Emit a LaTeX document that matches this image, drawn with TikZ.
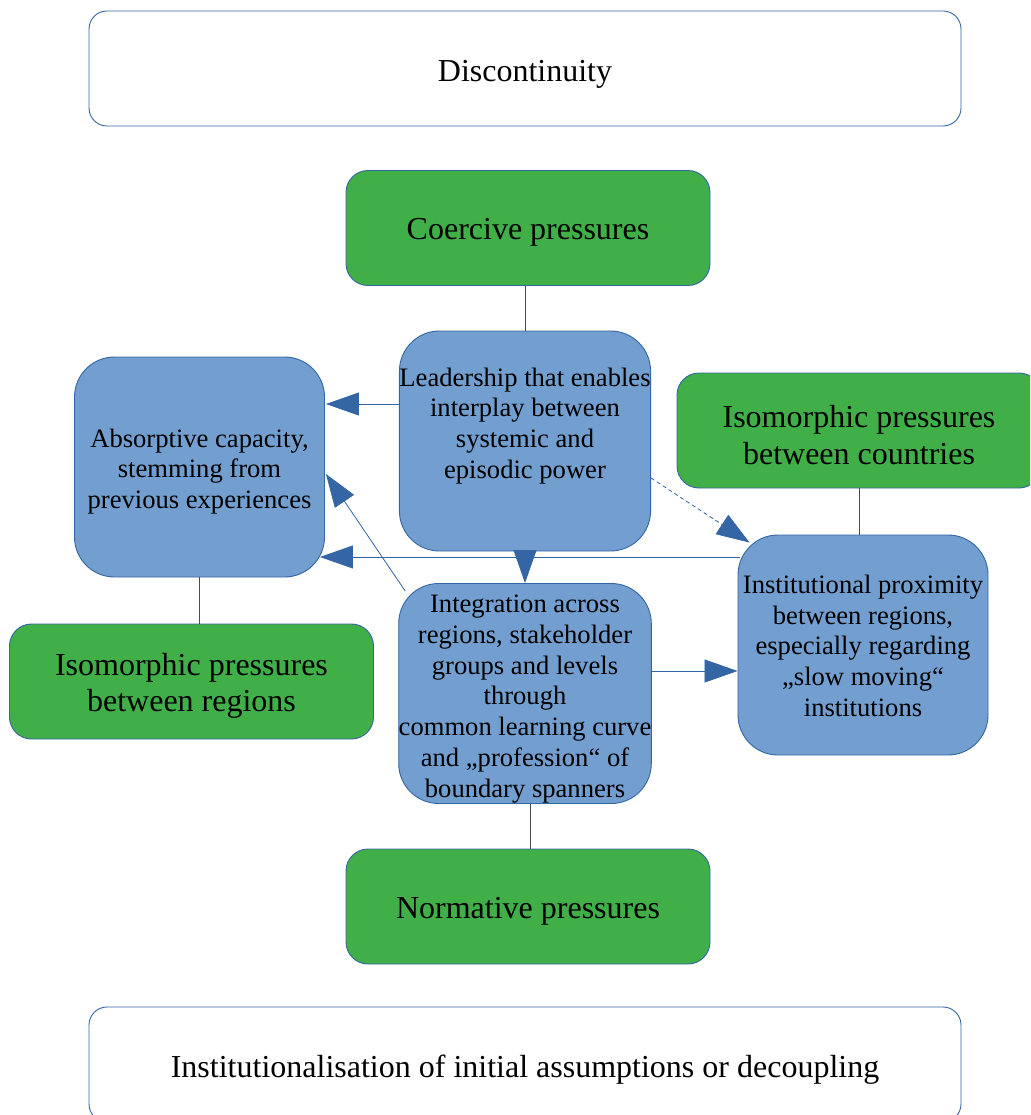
\documentclass[tikz,border=0pt]{standalone}
\usepackage{fontspec}
\setmainfont{Liberation Serif}
\usetikzlibrary{arrows.meta,calc}
\definecolor{boxgreen}{RGB}{65,175,72}
\definecolor{boxblue}{RGB}{114,159,207}
\definecolor{edgeblue}{RGB}{52,101,164}
% extra room above the first line of a multi-line label
\newcommand\padtop[1]{\rule{0pt}{#1}}

\begin{document}
\begin{tikzpicture}[x=1pt,y=-1pt,
  base/.style={draw=edgeblue, line width=0.9pt, align=center, inner sep=0pt, text=black},
  outer/.style={base, fill=white, minimum width=872pt, minimum height=115pt,
    rounded corners=18pt, font=\fontsize{32}{37}\selectfont,
    text height=33pt, text depth=7pt},
  pressure/.style={base, fill=boxgreen, minimum width=364pt, minimum height=115pt,
    rounded corners=22pt, font=\fontsize{32}{36.5}\selectfont},
  oneline/.style={text height=31pt, text depth=7pt},
  factor/.style={base, fill=boxblue, minimum width=250pt, minimum height=220pt,
    rounded corners=40pt, font=\fontsize{26.6}{30.8}\selectfont},
  link/.style={draw=black!70, line width=0.8pt},
  flow/.style={draw=edgeblue, line width=0.8pt, -{Triangle[length=33pt,width=23pt]}},
  weakflow/.style={flow, dash pattern=on 4pt off 3pt}
]
\path[use as bounding box] (0,0) rectangle (1030,1115);
\clip (0,0) rectangle (1030,1115);

% frame boxes
\node[outer] (disc)  at (525,68.5)  {Discontinuity};
\node[outer] (instl) at (525,1064.5) {Institutionalisation of initial assumptions or decoupling};

% pressures
\node[pressure, oneline] (coer) at (528,228)   {Coercive pressures};
\node[pressure] (isoc) at (859,430.5) {\padtop{31pt}Isomorphic pressures\\between countries};
\node[pressure] (isor) at (191.5,681.5) {\padtop{31pt}Isomorphic pressures\\between regions};
\node[pressure, oneline] (norm) at (528,906.5) {Normative pressures};

% factors
\node[factor] (lead)   at (525,441)   {\padtop{22.5pt}Leadership that enables\\interplay between\\systemic and\\episodic power\\\strut};
\node[factor] (absorb) at (199.5,467) {\padtop{27.5pt}Absorptive capacity,\\stemming from\\previous experiences};
\node[factor] (inst)   at (863,645)   {\padtop{20pt}Institutional proximity\\between regions,\\especially regarding\\„slow moving“\\institutions};
\node[factor] (integ)  at (525,693.5) {\padtop{28.5pt}Integration across\\regions, stakeholder\\groups and levels\\through\\common learning curve\\and „profession“ of\\boundary spanners};

% plain links between pressures and factors
\draw[link] (coer.south -| lead.north) -- (lead.north);
\draw[link] (absorb.south) -- (absorb.south |- isor.north);
\draw[link] (isoc.south) -- (isoc.south |- inst.north);
\draw[link] ($(integ.south)+(5,0)$) -- ($(integ.south |- norm.north)+(5,0)$);

% influence arrows
\draw[flow] ($(lead.west)+(0,-37)$) -- ($(absorb.east)+(1,-63)$);
\draw[flow] (lead.south) -- (integ.north);
\draw[flow] ($(integ.north west)+(7,8)$) -- ($(absorb.east)+(1,7)$);
\draw[flow] ($(inst.west)+(2,-88)$) -- ($(absorb.east)+(-5,90)$);
\draw[flow] ($(integ.east)+(0,-22.5)$) -- ($(inst.west)+(0,26)$);
\draw[weakflow] ($(lead.east)+(0,37)$) -- ($(inst.north west)+(12,8)$);
\end{tikzpicture}
\end{document}
